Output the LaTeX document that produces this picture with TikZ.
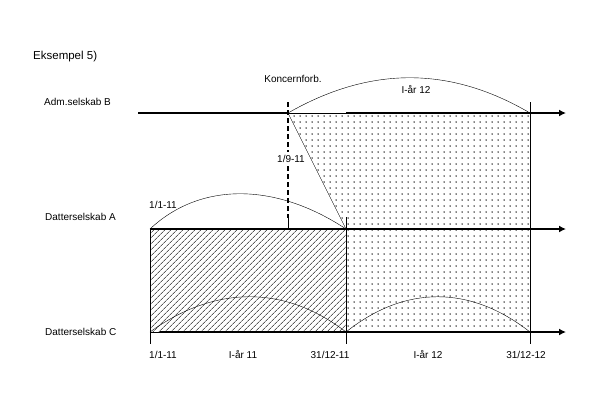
\documentclass[tikz,border=0pt]{standalone}
\usepackage{fontspec}
\setmainfont{Liberation Sans}
\usetikzlibrary{patterns.meta,arrows.meta}

\begin{document}
\begin{tikzpicture}[x=1pt,y=-1pt,
	lbl/.style={font=\fontsize{10}{12}\selectfont, inner sep=1pt},
	axis/.style={line width=2.2pt, -{Latex[length=7pt,width=7pt]}},
	hump/.style={thin}]
	\useasboundingbox (0,0) rectangle (616,416);
	% time points
	\coordinate (b0) at (138,113);
	\coordinate (bk) at (288,113);
	\coordinate (a0) at (150,229);
	\coordinate (am) at (346,229);
	\coordinate (c0) at (150,332);
	\coordinate (cm) at (346,332);
	\coordinate (ce) at (530,332);
	\coordinate (be) at (530,113);

	% shaded areas
	\fill[pattern={Lines[angle=45,distance=4pt,line width=0.5pt]}] (a0) rectangle (cm);
	\draw[thin] (a0) rectangle (cm);
	\fill[pattern={Dots[radius=0.75pt,distance=6pt]}] (bk) -- (be) -- (ce) -- (cm) -- (am) -- cycle;
	\draw[thin] (bk) -- (am);
	\draw[thin] (bk) -- (346,113);

	% time axes
	\draw[line width=2.2pt] (b0) -- (bk);
	\draw[axis] (346,113) -- (566,113);
	\draw[axis] (a0) -- (566,229);
	\draw[thin] (c0) -- (160,332);
	\draw[axis] (160,332) -- (566,332);

	% ticks
	\draw[thin] (150,229) -- (150,344);
	\draw[thin] (346,217) -- (346,344);
	\draw[thin] (530,102) -- (530,344);
	\draw[line width=1.5pt, dash pattern=on 5pt off 3pt] (288,102) -- (288,218);
	\draw[thin] (288,218) -- (288,229);

	% years
	\draw[hump] (bk) .. controls (370,66) and (450,66) .. (be);
	\draw[hump] (a0) .. controls (200,182) and (275,182) .. (am);
	\draw[hump] (c0) .. controls (215,285) and (285,285) .. (cm);
	\draw[hump] (cm) .. controls (405,285) and (470,285) .. (ce);

	% texts
	\node[lbl, anchor=west, font=\fontsize{11.5}{13}\selectfont] (title) at (32,57) {Eksempel 5)};
	\node[lbl, anchor=west] (admB) at (43,102) {Adm.selskab B};
	\node[lbl, anchor=west] (datA) at (44,217) {Datterselskab A};
	\node[lbl, anchor=west] (datC) at (44,332) {Datterselskab C};
	\node[lbl] (konc) at (293,79) {Koncernforb.};
	\node[lbl, fill=white, inner ysep=3pt] (d911) at (291,159) {1/9-11};
	\node[lbl] (d111a) at (163,205) {1/1-11};
	\node[lbl] (aar12b) at (416,90) {I-år 12};
	\node[lbl] (d111) at (163,355) {1/1-11};
	\node[lbl] (aar11) at (243,355) {I-år 11};
	\node[lbl] (d3111) at (330,355) {31/12-11};
	\node[lbl] (aar12) at (428,355) {I-år 12};
	\node[lbl] (d3112) at (526,355) {31/12-12};
\end{tikzpicture}
\end{document}
